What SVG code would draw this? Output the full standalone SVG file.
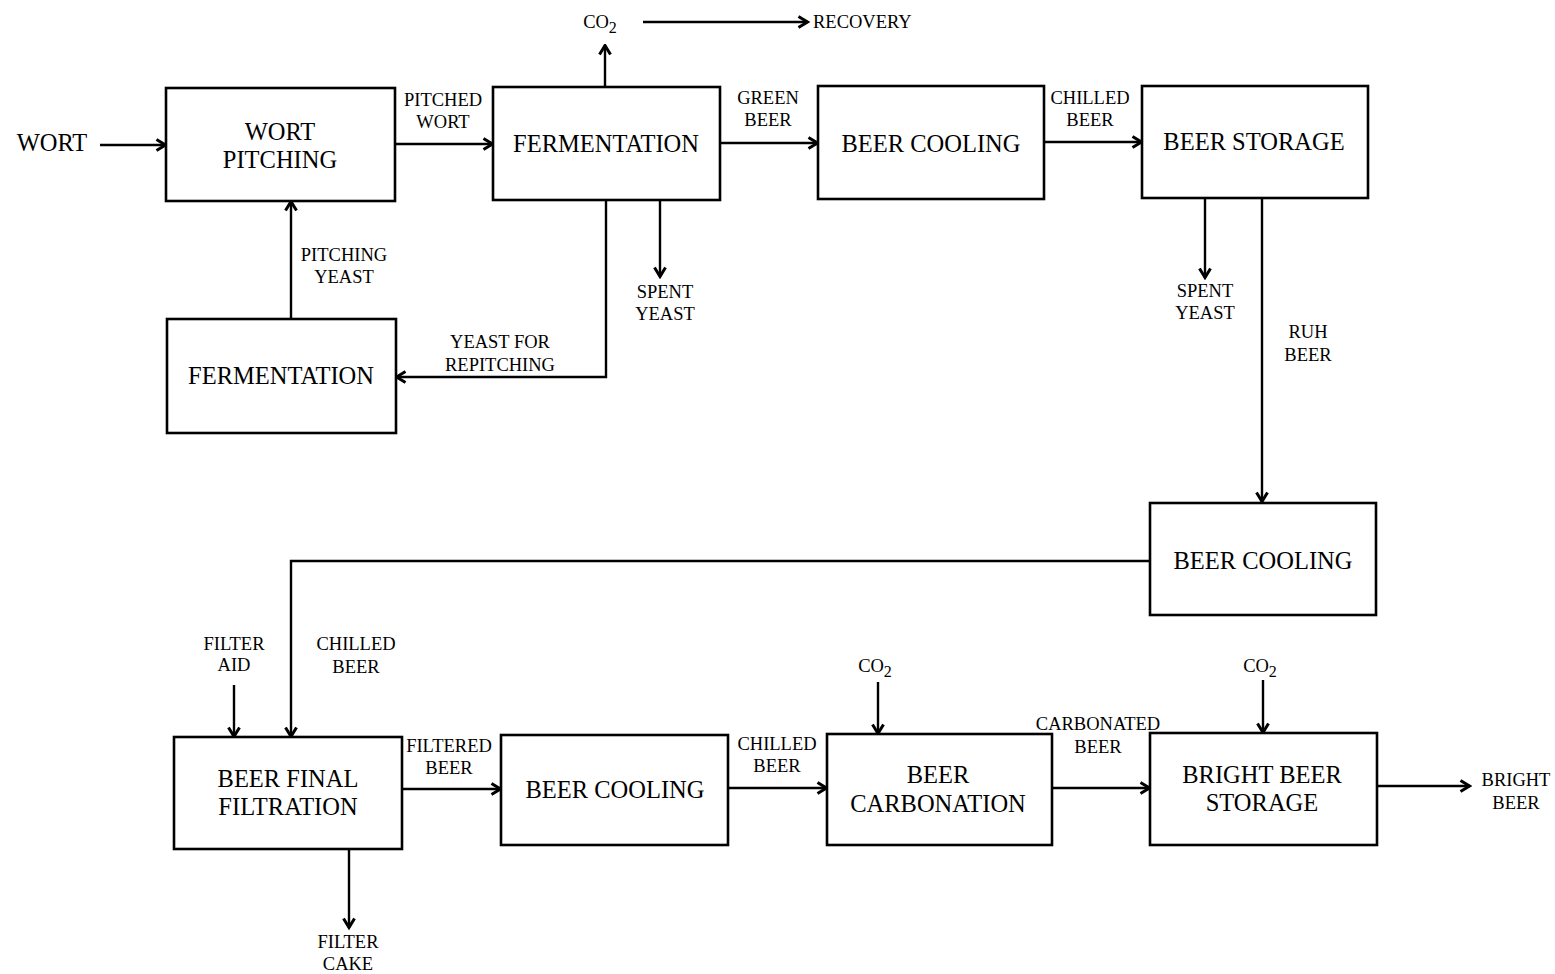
<svg xmlns="http://www.w3.org/2000/svg" width="1555" height="974" viewBox="0 0 1555 974">
<style>
.box{fill:#fff;stroke:#000;stroke-width:2.6}
.big{font-family:"Liberation Serif",serif;font-size:24.5px;text-anchor:middle;fill:#000}
.sm{font-family:"Liberation Serif",serif;font-size:18.5px;text-anchor:middle;fill:#000}
.ln{fill:none;stroke:#000;stroke-width:2.4}
</style>
<defs>
<marker id="ah" viewBox="0 0 14 14" refX="12.5" refY="7" markerWidth="14" markerHeight="14" markerUnits="userSpaceOnUse" orient="auto">
<path d="M3,1.5 L12,7 L3,12.5" fill="none" stroke="#000" stroke-width="3"/>
</marker>
</defs>
<rect width="1555" height="974" fill="#fff"/>
<g id="connectors">
<path class="ln" d="M100,145 H166" marker-end="url(#ah)"/>
<path class="ln" d="M395,144 H493" marker-end="url(#ah)"/>
<path class="ln" d="M605,87 V45" marker-end="url(#ah)"/>
<path class="ln" d="M643,22 H808" marker-end="url(#ah)"/>
<path class="ln" d="M720,143 H818" marker-end="url(#ah)"/>
<path class="ln" d="M1044,142 H1142" marker-end="url(#ah)"/>
<path class="ln" d="M660,200 V277" marker-end="url(#ah)"/>
<path class="ln" d="M606,200 V377 H396" marker-end="url(#ah)"/>
<path class="ln" d="M291,319 V201" marker-end="url(#ah)"/>
<path class="ln" d="M1205,198 V278" marker-end="url(#ah)"/>
<path class="ln" d="M1262,198 V502" marker-end="url(#ah)"/>
<path class="ln" d="M1150,561 H291 V737" marker-end="url(#ah)"/>
<path class="ln" d="M234,685 V737" marker-end="url(#ah)"/>
<path class="ln" d="M349,849 V928" marker-end="url(#ah)"/>
<path class="ln" d="M402,789 H501" marker-end="url(#ah)"/>
<path class="ln" d="M728,788 H827" marker-end="url(#ah)"/>
<path class="ln" d="M878,682 V734" marker-end="url(#ah)"/>
<path class="ln" d="M1052,788 H1150" marker-end="url(#ah)"/>
<path class="ln" d="M1263,680 V733" marker-end="url(#ah)"/>
<path class="ln" d="M1377,786 H1470" marker-end="url(#ah)"/>
</g>
<g id="labels">
<text class="big" x="52" y="151">WORT</text>
<text class="sm" x="443" y="106">PITCHED</text>
<text class="sm" x="443" y="128">WORT</text>
<text class="sm" x="600" y="28">CO<tspan font-size="16" dy="5">2</tspan></text>
<text class="sm" x="813" y="28" style="text-anchor:start">RECOVERY</text>
<text class="sm" x="768" y="104">GREEN</text>
<text class="sm" x="768" y="126">BEER</text>
<text class="sm" x="1090" y="104">CHILLED</text>
<text class="sm" x="1090" y="126">BEER</text>
<text class="sm" x="665" y="298">SPENT</text>
<text class="sm" x="665" y="320">YEAST</text>
<text class="sm" x="500" y="348">YEAST FOR</text>
<text class="sm" x="500" y="371">REPITCHING</text>
<text class="sm" x="344" y="261">PITCHING</text>
<text class="sm" x="344" y="283">YEAST</text>
<text class="sm" x="1205" y="297">SPENT</text>
<text class="sm" x="1205" y="319">YEAST</text>
<text class="sm" x="1308" y="338">RUH</text>
<text class="sm" x="1308" y="361">BEER</text>
<text class="sm" x="234" y="650">FILTER</text>
<text class="sm" x="234" y="671">AID</text>
<text class="sm" x="356" y="650">CHILLED</text>
<text class="sm" x="356" y="673">BEER</text>
<text class="sm" x="348" y="948">FILTER</text>
<text class="sm" x="348" y="970">CAKE</text>
<text class="sm" x="449" y="752">FILTERED</text>
<text class="sm" x="449" y="774">BEER</text>
<text class="sm" x="777" y="750">CHILLED</text>
<text class="sm" x="777" y="772">BEER</text>
<text class="sm" x="875" y="672">CO<tspan font-size="16" dy="5">2</tspan></text>
<text class="sm" x="1098" y="730">CARBONATED</text>
<text class="sm" x="1098" y="753">BEER</text>
<text class="sm" x="1260" y="672">CO<tspan font-size="16" dy="5">2</tspan></text>
<text class="sm" x="1516" y="786">BRIGHT</text>
<text class="sm" x="1516" y="809">BEER</text>
</g>
<g id="wort-pitching">
<rect class="box" x="166" y="88" width="229" height="113"/>
<text class="big" x="280" y="140">WORT</text>
<text class="big" x="280" y="168">PITCHING</text>
</g>
<g id="fermentation-1">
<rect class="box" x="493" y="87" width="227" height="113"/>
<text class="big" x="606" y="152">FERMENTATION</text>
</g>
<g id="beer-cooling-1">
<rect class="box" x="818" y="86" width="226" height="113"/>
<text class="big" x="931" y="152">BEER COOLING</text>
</g>
<g id="beer-storage">
<rect class="box" x="1142" y="86" width="226" height="112"/>
<text class="big" x="1254" y="150">BEER STORAGE</text>
</g>
<g id="fermentation-2">
<rect class="box" x="167" y="319" width="229" height="114"/>
<text class="big" x="281" y="384">FERMENTATION</text>
</g>
<g id="beer-cooling-2">
<rect class="box" x="1150" y="503" width="226" height="112"/>
<text class="big" x="1263" y="569">BEER COOLING</text>
</g>
<g id="beer-final-filtration">
<rect class="box" x="174" y="737" width="228" height="112"/>
<text class="big" x="288" y="787">BEER FINAL</text>
<text class="big" x="288" y="815">FILTRATION</text>
</g>
<g id="beer-cooling-3">
<rect class="box" x="501" y="735" width="227" height="110"/>
<text class="big" x="615" y="798">BEER COOLING</text>
</g>
<g id="beer-carbonation">
<rect class="box" x="827" y="734" width="225" height="111"/>
<text class="big" x="938" y="783">BEER</text>
<text class="big" x="938" y="812">CARBONATION</text>
</g>
<g id="bright-beer-storage">
<rect class="box" x="1150" y="733" width="227" height="112"/>
<text class="big" x="1262" y="783">BRIGHT BEER</text>
<text class="big" x="1262" y="811">STORAGE</text>
</g>
</svg>
